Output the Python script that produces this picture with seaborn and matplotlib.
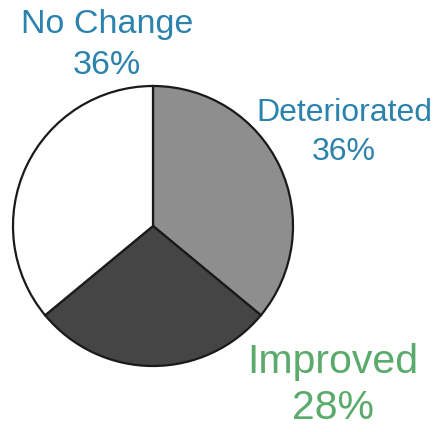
import matplotlib
matplotlib.use("Agg")
import matplotlib.pyplot as plt
import seaborn as sns

categories = ["Deteriorated", "Improved", "No Change"]
values = [36, 28, 36]
pct_labels = ["36%", "28%", "36%"]

sns.set_theme(style="white")
plt.rcParams['font.family'] = ['Liberation Sans', 'DejaVu Sans']

W, H = 439, 432
fig = plt.figure(figsize=(W / 100, H / 100), dpi=100)
ax = fig.add_axes([0, 0, 1, 1])
ax.set_xlim(0, W)
ax.set_ylim(0, H)
ax.set_aspect('equal')
ax.axis('off')

colors = ["#8e8e8e", "#454545", "#ffffff"]
ax.pie(values, colors=colors, startangle=90, counterclock=False,
       center=(153, H - 226), radius=140,
       wedgeprops=dict(edgecolor="#1a1a1a", linewidth=1.6))
ax.set_xlim(0, W)
ax.set_ylim(0, H)

blue = "#2b82ad"
green = "#5aab6b"
# label positions (x, y-line1, y-line2, size, color)
specs = {
    "No Change": (107, 25, 65, 24.5, blue),
    "Deteriorated": (344, 113, 152, 23, blue),
    "Improved": (333, 362, 408, 29.5, green),
}
for cat, pct in zip(categories, pct_labels):
    x, y1, y2, s, c = specs[cat]
    ax.text(x, H - y1, cat, ha='center', va='center', fontsize=s, color=c)
    ax.text(x, H - y2, pct, ha='center', va='center', fontsize=s, color=c)

fig.savefig("out.png", dpi=100)
